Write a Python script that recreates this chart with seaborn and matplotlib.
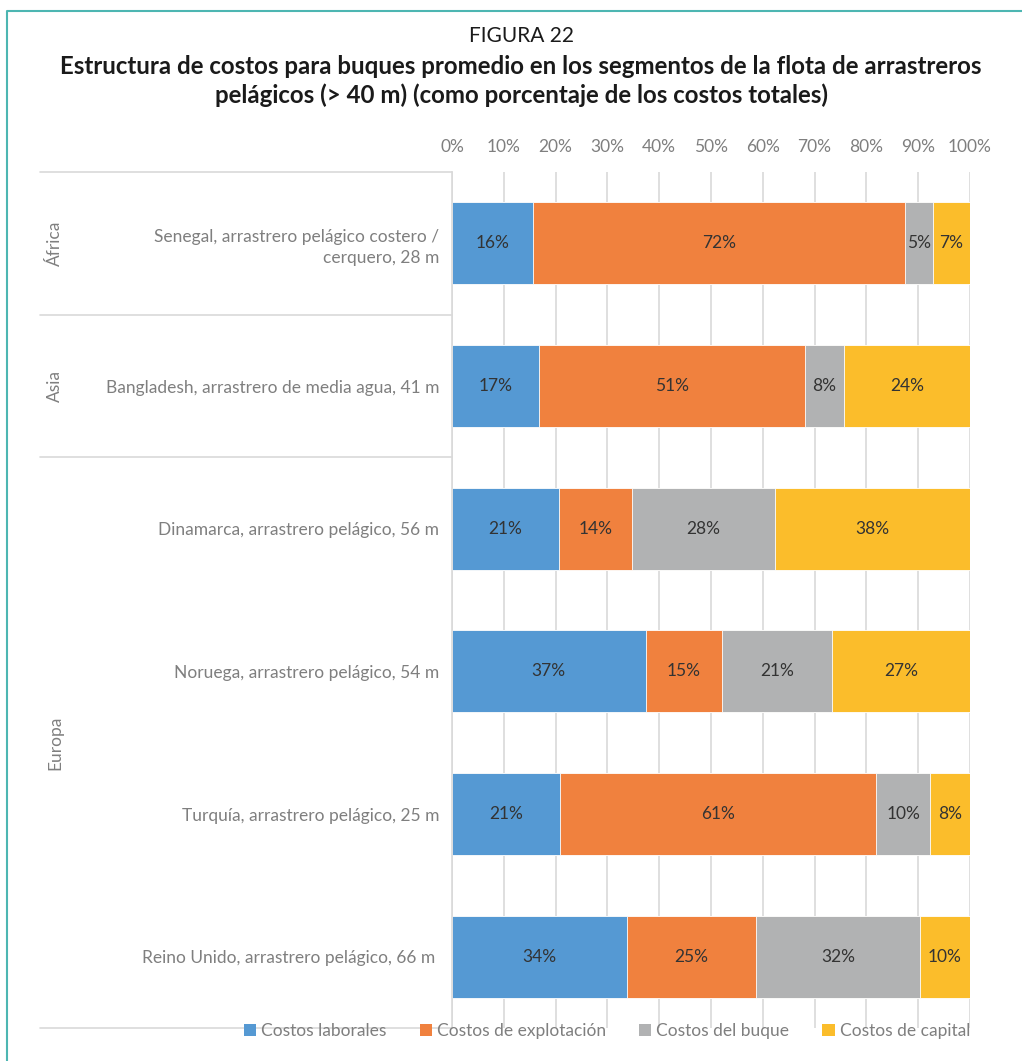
import pandas as pd
import seaborn as sns
import matplotlib.pyplot as plt
from matplotlib.patches import Patch
from matplotlib.lines import Line2D

buques = ['Senegal, arrastrero pelágico costero /\ncerquero, 28 m',
          'Bangladesh, arrastrero de media agua, 41 m',
          'Dinamarca, arrastrero pelágico, 56 m',
          'Noruega, arrastrero pelágico, 54 m',
          'Turquía, arrastrero pelágico, 25 m',
          'Reino Unido, arrastrero pelágico, 66 m ']
regiones = ['África', 'Asia', 'Europa']
region_filas = [(0, 0), (1, 1), (2, 5)]

laborales = [15.7, 16.7, 20.6, 37.4, 20.9, 33.8]
explotacion = [71.8, 51.4, 14.1, 14.7, 61.0, 24.9]
buque = [5.4, 7.6, 27.6, 21.3, 10.4, 31.6]
capital = [7.1, 24.3, 37.7, 26.6, 7.7, 9.7]

series = ['Costos laborales', 'Costos de explotación', 'Costos del buque', 'Costos de capital']
colores = ['#5599D3', '#F0813E', '#B1B2B3', '#FBBD2B']

df = pd.DataFrame({'buque': buques, series[0]: laborales, series[1]: explotacion,
                   series[2]: buque, series[3]: capital})
cum = df[series].cumsum(axis=1)
for s in series:
    df['cum_' + s] = cum[s]

sns.set_style('white')
plt.rcParams['font.family'] = ['Lato', 'DejaVu Sans']

fs = 12.5
fig = plt.figure(figsize=(10.22, 10.61), dpi=100)
ax = fig.add_axes([452 / 1022, 33 / 1061, 518 / 1022, 856 / 1061])

# capas acumuladas, de la mayor a la menor
for s, c in reversed(list(zip(series, colores))):
    sns.barplot(data=df, x='cum_' + s, y='buque', color=c, width=0.575, saturation=1,
                orient='h', edgecolor='white', linewidth=0.6, ax=ax, zorder=3)

# etiquetas de valor
for i in range(len(df)):
    inicio = 0
    for s in series:
        v = df.loc[i, s]
        ax.text(inicio + v / 2, i, '%d%%' % round(v), ha='center', va='center',
                fontsize=fs, color='#333333', zorder=4)
        inicio += v

ax.set_xlim(0, 100)
ax.set_ylim(5.5, -0.5)
ax.set_xticks(range(0, 101, 10))
ax.set_xticklabels(['%d%%' % t for t in range(0, 101, 10)])
ax.xaxis.tick_top()
ax.tick_params(axis='x', length=0, pad=12, labelsize=fs, labelcolor='#7F7F7F')
ax.tick_params(axis='y', length=0, pad=9, labelsize=fs, labelcolor='#7F7F7F')
for t in ax.get_yticklabels():
    t.set_linespacing(1.4)
ax.set_xlabel('')
ax.set_ylabel('')
ax.grid(axis='x', color='#D9D9D9', linewidth=1.2, zorder=0)
ax.set_axisbelow(True)
for sp in ['top', 'right', 'bottom']:
    ax.spines[sp].set_visible(False)
ax.spines['left'].set_color('#D9D9D9')
ax.spines['left'].set_linewidth(1.2)
ax.spines['left'].set_zorder(5)

# separadores de regiones y etiquetas
trans = ax.get_yaxis_transform()
x0 = (40 - 452) / 518
for yb in [-0.5, 0.5, 1.5, 5.5]:
    ax.add_line(Line2D([x0, 0], [yb, yb], transform=trans, color='#D9D9D9',
                       linewidth=1.2, clip_on=False))
for reg, (a, b) in zip(regiones, region_filas):
    ax.text((55 - 452) / 518, (a + b) / 2, reg, transform=trans, rotation=90,
            ha='center', va='center', fontsize=fs, color='#7F7F7F')

fig.text(0.51, 1 - 36 / 1061, 'FIGURA 22', ha='center', va='center',
         fontsize=15, color='#1A1A1A')
fig.text(0.51, 1 - 81 / 1061,
         'Estructura de costos para buques promedio en los segmentos de la flota de arrastreros\n'
         'pelágicos (> 40 m) (como porcentaje de los costos totales)',
         ha='center', va='center', fontsize=17.3, fontweight='bold', color='#1A1A1A',
         linespacing=1.25)

handles = [Patch(facecolor=c, edgecolor='none') for c in colores]
fig.legend(handles, series, loc='center', bbox_to_anchor=(607 / 1022, 1 - 1031 / 1061),
           ncol=4, frameon=False, fontsize=fs, labelcolor='#7F7F7F',
           handlelength=0.7, handleheight=0.7, handletextpad=0.3, columnspacing=1.9)

fig.add_artist(Line2D([7 / 1022, 7 / 1022, 1.0], [0, 1 - 11 / 1061, 1 - 11 / 1061],
                      transform=fig.transFigure, color='#4DB6B2', linewidth=1.5))

fig.savefig('out.png', dpi=100)
